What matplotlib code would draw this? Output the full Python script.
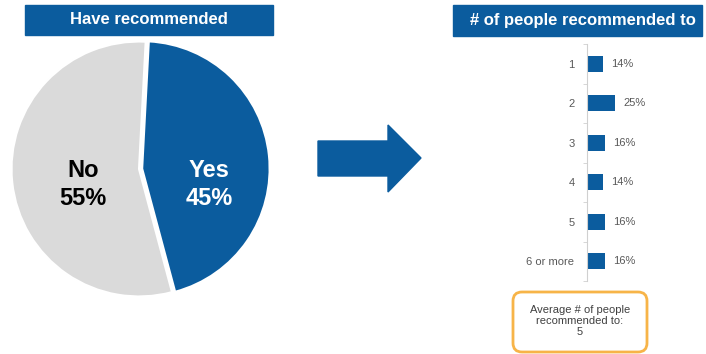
import matplotlib
matplotlib.use("Agg")
import matplotlib.pyplot as plt
from matplotlib.patches import Rectangle, Polygon, FancyBboxPatch

plt.rcParams['font.family'] = ['Liberation Sans', 'DejaVu Sans']

# data
pie_labels = ['Yes', 'No']
pie_values = [45, 55]
count_labels = ['1', '2', '3', '4', '5', '6 or more']
count_values = [14, 25, 16, 14, 16, 16]
avg_people = 5

blue = '#0B5C9E'
grey = '#DADADA'
W, H = 706, 354

fig = plt.figure(figsize=(W / 100, H / 100), dpi=100)

# background axes in pixel units for boxes / arrow
bg = fig.add_axes([0, 0, 1, 1])
bg.set_xlim(0, W)
bg.set_ylim(H, 0)
bg.axis('off')

# title boxes
bg.add_patch(Rectangle((25, 5), 248, 30, color=blue))
bg.text(149, 20, 'Have recommended', color='white', fontsize=12,
        fontweight='bold', ha='center', va='center')
bg.add_patch(Rectangle((453, 5), 249, 31, color=blue))
bg.text(583, 21, '# of people recommended to', color='white', fontsize=12,
        fontweight='bold', ha='center', va='center')

# arrow
bg.add_patch(Polygon([(318, 141), (388, 141), (388, 125), (421, 158),
                      (388, 192), (388, 176), (318, 176)],
                     closed=True, color=blue))

# average box
bg.add_patch(FancyBboxPatch((513, 292), 134, 60,
                            boxstyle='round,pad=0,rounding_size=9',
                            fc='white', ec='#F7B448', lw=2))
bg.text(580, 321, 'Average # of people\nrecommended to:\n%d' % avg_people,
        fontsize=8, color='#404040', ha='center', va='center',
        linespacing=1.15)

# pie
ax = fig.add_axes([9 / W, (H - 299) / H, 260 / W, 260 / H])
ax.pie(pie_values, colors=[blue, grey], startangle=87, counterclock=False,
       explode=[0.025, 0], wedgeprops=dict(edgecolor='white', linewidth=1.5))
ax.set_xlim(-1.02, 1.02)
ax.set_ylim(-1.02, 1.02)
ax.set_aspect('equal')
ax.text(0.55, -0.12, '%s\n%d%%' % (pie_labels[0], pie_values[0]),
        color='white', fontsize=17, fontweight='bold', ha='center',
        va='center', linespacing=1.3)
ax.text(-0.44, -0.12, '%s\n%d%%' % (pie_labels[1], pie_values[1]),
        color='black', fontsize=17, fontweight='bold', ha='center',
        va='center', linespacing=1.3)

# bar chart
ax2 = fig.add_axes([587 / W, (H - 281) / H, (W - 587) / W, 237 / H])
ypos = list(range(len(count_labels)))
ax2.barh(ypos, count_values, height=0.4, color=blue)
ax2.set_xlim(0, (W - 587) / 1.13)
ax2.set_ylim(5.5, -0.5)
for s in ['top', 'right', 'bottom']:
    ax2.spines[s].set_visible(False)
ax2.spines['left'].set_color('#D0D0D0')
ax2.set_xticks([])
ax2.set_yticks(ypos)
ax2.set_yticklabels(count_labels, fontsize=8, color='#595959')
ax2.tick_params(axis='y', which='major', length=0, pad=9)
ax2.set_yticks([y - 0.5 for y in range(len(count_labels) + 1)], minor=True)
ax2.tick_params(axis='y', which='minor', length=3, color='#D0D0D0')
for y, v in zip(ypos, count_values):
    ax2.text(v + 7, y, '%d%%' % v, fontsize=8, color='#595959', va='center')

fig.savefig('out.png', dpi=100)
